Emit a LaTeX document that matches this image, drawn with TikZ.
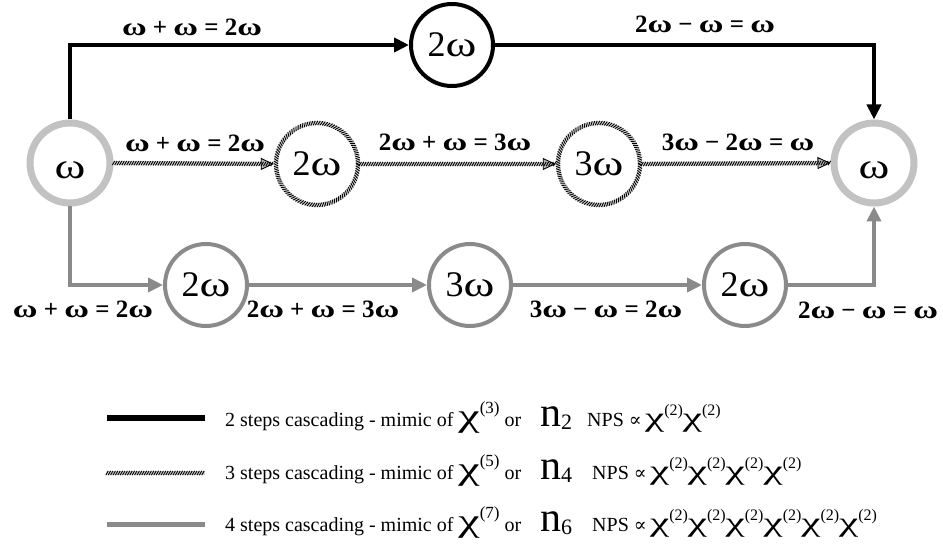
\documentclass[tikz,border=0pt]{standalone}
\usepackage{fontspec}
\setmainfont{Liberation Serif}
\newfontfamily\dejav{DejaVu Serif}
\usetikzlibrary{arrows.meta,decorations.markings}
\definecolor{ringgray}{HTML}{C2C2C2}
\definecolor{midgray}{HTML}{8A8A8A}
\newcommand{\lw}{\scalebox{1.35}[1]{ω}}
\newcommand{\cw}{\scalebox{1.3}[1]{ω}}
\newcommand{\bigchi}[1]{{\fontsize{32}{32}\selectfont\scalebox{1.5}[1]{χ}}\raisebox{13pt}{\fontsize{17}{17}\selectfont(#1)}}
\newcommand{\bign}[1]{{\fontsize{42}{42}\selectfont n}\raisebox{-3pt}{\fontsize{22}{22}\selectfont #1}}
\newcommand{\smchi}{{\fontsize{27}{27}\selectfont\scalebox{1.6}[1]{χ}}\raisebox{11pt}{\fontsize{16}{16}\selectfont(2)}}
\newcommand{\mprop}{{\dejav\fontsize{19}{19}\selectfont ∝}}
\tikzset{
  hatchdeco/.style={postaction={decorate,decoration={markings,
     mark=between positions 0 and 1 step 2.4pt with
     {\draw[-,line width=0.9pt,black,line cap=butt] (-1.2pt,-2.1pt) -- (1.2pt,2.1pt);}}}},
  freq/.style={circle,minimum size=82pt,inner sep=0pt,font=\fontsize{36}{36}\selectfont},
  ringnode/.style={freq,minimum size=80pt,draw=ringgray,line width=7pt,text height=32pt,text depth=0pt},
  blacknode/.style={freq,draw=black,line width=4pt},
  graynode/.style={freq,draw=midgray,line width=4pt},
  hatchnode/.style={freq,draw=gray!35,line width=4.4pt,hatchdeco},
  blackline/.style={draw=black,line width=4pt,-{Triangle[length=15pt,width=14pt]}},
  grayline/.style={draw=midgray,line width=4pt,-{Triangle[length=15pt,width=14pt]}},
  hatchline/.style={draw=gray!35,line width=4.4pt,hatchdeco,
     -{Triangle[length=13pt,width=12pt,line width=0.9pt,color=black,fill=gray!55]}},
  lab/.style={font=\bfseries\fontsize{25}{25}\selectfont,inner sep=0pt},
  legtext/.style={anchor=base west,inner sep=0pt,font=\fontsize{20}{24}\selectfont},
}
\begin{document}
\begin{tikzpicture}[x=1pt,y=-1pt]
\useasboundingbox[fill=white] (0,0) rectangle (943,548);
% nodes
\node[ringnode]  (L)  at (70,163)  {\cw};
\node[ringnode]  (R)  at (874,163) {\cw};
\node[blacknode] (T)  at (452,45)  {2\cw};
\node[hatchnode] (M1) at (317,164) {2\cw};
\node[hatchnode] (M2) at (599,164) {3\cw};
\node[graynode]  (B1) at (206,285) {2\cw};
\node[graynode]  (B2) at (470,285) {3\cw};
\node[graynode]  (B3) at (745,285) {2\cw};
% connectors
\draw[blackline] (L.north) |- (T.west);
\draw[blackline] (T.east) -| (R.north);
\draw[hatchline] (L.east) -- (M1.west);
\draw[hatchline] (M1.east) -- (M2.west);
\draw[hatchline] (M2.east) -- (R.west);
\draw[grayline] (L.south) |- (B1.west);
\draw[grayline] (B1.east) -- (B2.west);
\draw[grayline] (B2.east) -- (B3.west);
\draw[grayline] (B3.east) -| (R.south);
% labels
\node[lab] at (192,27)  {\lw\ + \lw\ = 2\lw};
\node[lab] at (705,24)  {2\lw\ − \lw\ = \lw};
\node[lab] at (195,143) {\lw\ + \lw\ = 2\lw};
\node[lab] at (455,142) {2\lw\ + \lw\ = 3\lw};
\node[lab] at (738,142) {3\lw\ − 2\lw\ = \lw};
\node[lab] at (83,309)  {\lw\ + \lw\ = 2\lw};
\node[lab] at (323,309) {2\lw\ + \lw\ = 3\lw};
\node[lab] at (606,309) {3\lw\ − \lw\ = 2\lw};
\node[lab] at (868,310) {2\lw\ − \lw\ = \lw};
% legend
\coordinate (g1a) at (107,418); \coordinate (g1b) at (205,418);
\coordinate (g2a) at (107,473); \coordinate (g2b) at (205,473);
\coordinate (g3a) at (107,524); \coordinate (g3b) at (205,524);
\draw[black,line width=5.5pt] (g1a) -- (g1b);
\draw[draw=gray!35,line width=4pt,hatchdeco] (g2a) -- (g2b);
\draw[midgray,line width=5pt] (g3a) -- (g3b);
\node[legtext] (t1) at (225,426) {2 steps cascading - mimic of \bigchi{3} or};
\node[legtext] (t2) at (225,479) {3 steps cascading - mimic of \bigchi{5} or};
\node[legtext] (t3) at (225,531) {4 steps cascading - mimic of \bigchi{7} or};
\node[legtext] (u1) at (540,426) {\bign{2}\hspace{15pt}NPS \mprop\,\smchi\smchi};
\node[legtext] (u2) at (540,479) {\bign{4}\hspace{20pt}NPS \mprop\,\smchi\smchi\smchi\smchi};
\node[legtext] (u3) at (540,531) {\bign{6}\hspace{20pt}NPS \mprop\,\smchi\smchi\smchi\smchi\smchi\smchi};
\end{tikzpicture}
\end{document}
